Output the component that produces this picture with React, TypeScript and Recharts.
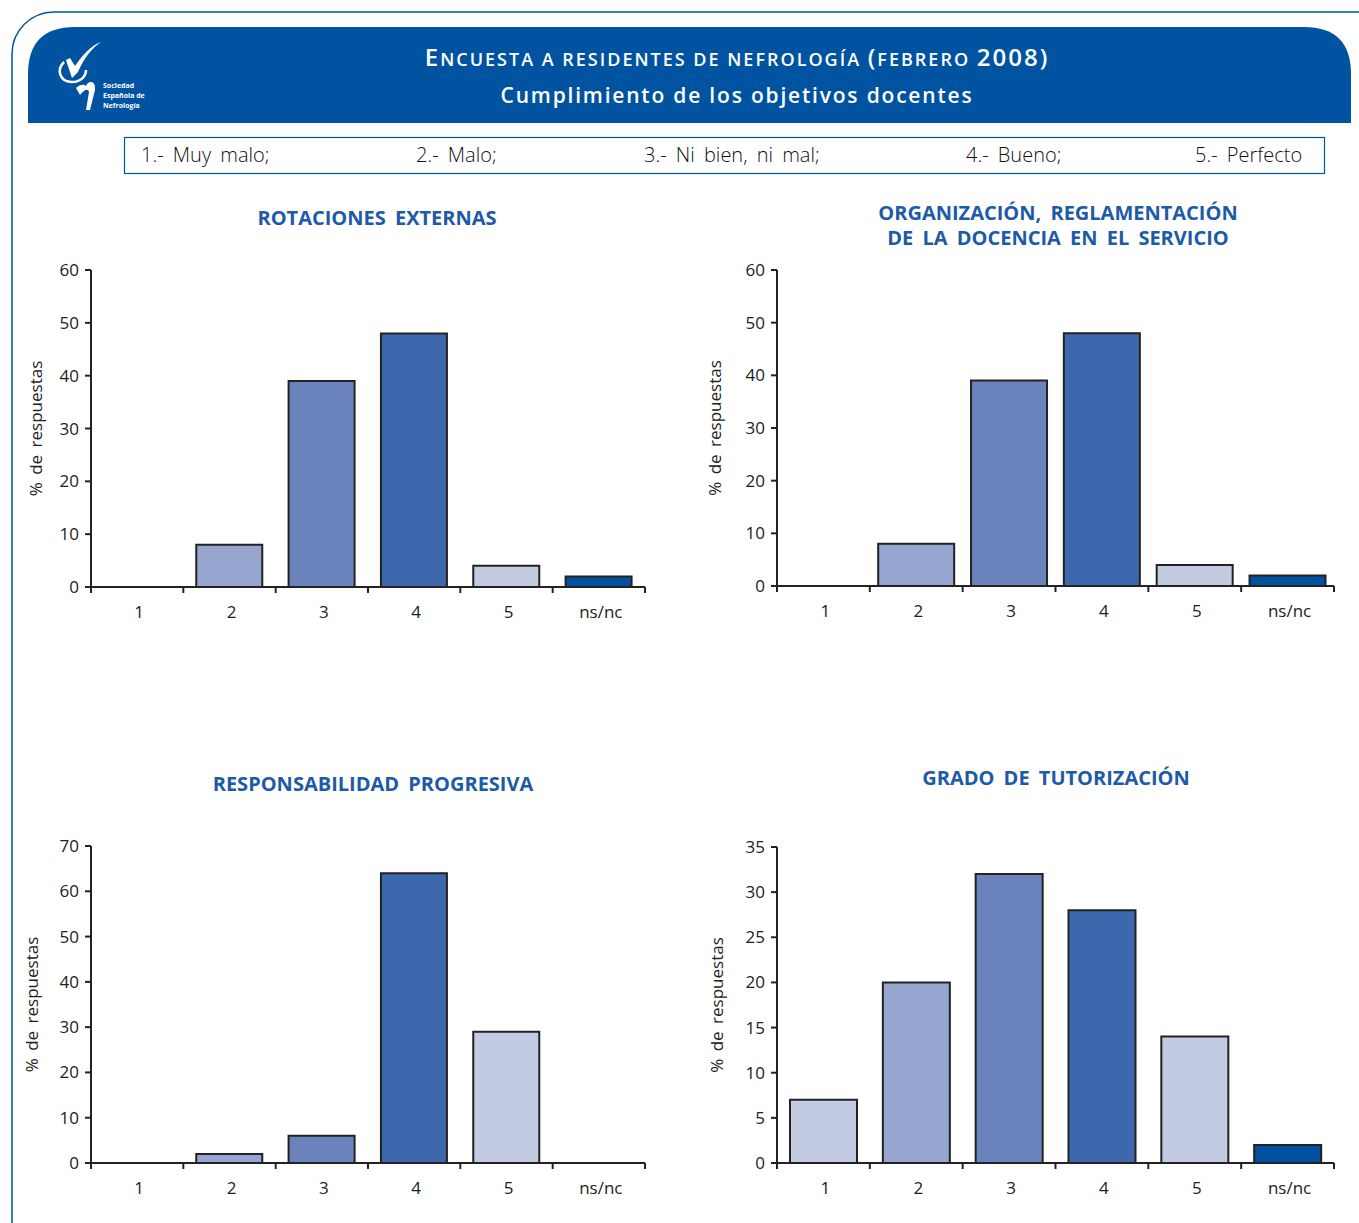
import React from 'react'
import { BarChart, Bar, XAxis, YAxis, Cell } from 'recharts'

const CATEGORIES = ['1', '2', '3', '4', '5', 'ns/nc']
const ROTACIONES = [0, 8, 39, 48, 4, 2]
const ORGANIZACION = [0, 8, 39, 48, 4, 2]
const RESPONSABILIDAD = [0, 2, 6, 64, 29, 0]
const TUTORIZACION = [7, 20, 32, 28, 14, 2]
const TICKS_60 = [0, 10, 20, 30, 40, 50, 60]
const TICKS_70 = [0, 10, 20, 30, 40, 50, 60, 70]
const TICKS_35 = [0, 5, 10, 15, 20, 25, 30, 35]
const LEGEND = ['1.- Muy malo;', '2.- Malo;', '3.- Ni bien, ni mal;', '4.- Bueno;', '5.- Perfecto']

const BAR_COLORS = ['#c3cbe3', '#97a6d0', '#6b83bd', '#3e68ad', '#c3cbe3', '#0052a0']
const BLUE = '#0053a1'
const TITLE_BLUE = '#1d5aa7'
const INK = '#222'
const FONT = '"Open Sans", "Noto Sans", sans-serif'
const X_LABEL_GAP = 19

function YLabel({ viewBox, dx }: any) {
  const x = viewBox.x + dx
  const y = viewBox.y + viewBox.height / 2
  return (
    <text
      x={x}
      y={y}
      transform={`rotate(-90, ${x}, ${y})`}
      textAnchor="middle"
      dominantBaseline="central"
      fontSize={17}
      fill={INK}
      fontFamily={FONT}
      style={{ wordSpacing: 3 }}
    >
      % de respuestas
    </text>
  )
}

// category label plus tick marks on the band edges (between categories)
function CatTick({ x, y, payload }: any) {
  const half = payload.offset ?? 0
  const axisY = y - X_LABEL_GAP
  const last = payload.value === CATEGORIES[CATEGORIES.length - 1]
  return (
    <g>
      <line x1={x - half} x2={x - half} y1={axisY} y2={axisY + 6} stroke={INK} strokeWidth={2} />
      {last && <line x1={x + half} x2={x + half} y1={axisY} y2={axisY + 6} stroke={INK} strokeWidth={2} />}
      <text x={x + 2} y={y} dy="0.71em" textAnchor="middle" fontSize={17} fill={INK} fontFamily={FONT}>
        {payload.value}
      </text>
    </g>
  )
}

interface PanelProps {
  values: number[]
  yMax: number
  yTicks: number[]
  left: number
  plotTop: number
  plotBottom: number
  plotRight: number
  labelX: number
  gap: string
}

function Panel({ values, yMax, yTicks, left, plotTop, plotBottom, plotRight, labelX, gap }: PanelProps) {
  const data = CATEGORIES.map((c, i) => ({ cat: c, v: values[i] }))
  const chartTop = plotTop - 20
  const width = 680
  const height = 400
  const bottom = height - (plotBottom - chartTop) - 40
  return (
    <div style={{ position: 'absolute', left, top: chartTop }}>
      <BarChart
        width={width}
        height={height}
        data={data}
        margin={{ top: 20, right: width - (plotRight - left), left: 0, bottom }}
        barCategoryGap={gap}
      >
        <XAxis
          dataKey="cat"
          height={40}
          axisLine={{ stroke: INK, strokeWidth: 2 }}
          tickLine={false}
          tickSize={0}
          tickMargin={X_LABEL_GAP}
          interval={0}
          tick={<CatTick />}
        />
        <YAxis
          domain={[0, yMax]}
          ticks={yTicks}
          width={91}
          interval={0}
          tickSize={6}
          tickMargin={6}
          axisLine={{ stroke: INK, strokeWidth: 2 }}
          tickLine={{ stroke: INK, strokeWidth: 2 }}
          tick={{ fontSize: 17, fill: INK, fontFamily: FONT }}
          label={<YLabel dx={labelX} />}
        />
        <Bar dataKey="v" stroke={INK} strokeWidth={2} isAnimationActive={false}>
          {data.map((_d, i) => (
            <Cell key={i} fill={BAR_COLORS[i]} />
          ))}
        </Bar>
      </BarChart>
    </div>
  )
}

function Title({ lines, cx, top }: { lines: string[]; cx: number; top: number }) {
  return (
    <div
      style={{
        position: 'absolute',
        left: cx - 300,
        top,
        width: 600,
        textAlign: 'center',
        color: TITLE_BLUE,
        fontFamily: FONT,
        fontWeight: 700,
        fontSize: 20,
        lineHeight: '25px',
        wordSpacing: 4,
      }}
    >
      {lines.map((l) => (
        <div key={l}>{l}</div>
      ))}
    </div>
  )
}

const big = { fontSize: 24 }
const small = { fontSize: 18 }

export default function App() {
  const legendX = [141, 416, 644, 966, 1195]
  return (
    <div
      style={{
        position: 'absolute',
        left: 0,
        top: 0,
        width: 1359,
        height: 1223,
        overflow: 'hidden',
        background: '#fff',
        fontFamily: FONT,
      }}
    >
      <svg width={1359} height={1223} style={{ position: 'absolute', left: 0, top: 0 }}>
        <rect x={12} y={12} width={1390} height={1300} rx={42} fill="none" stroke={BLUE} strokeWidth={1.5} />
        <path d="M28,123 L28,74 Q28,27 75,27 L1304,27 Q1351,27 1351,74 L1351,123 Z" fill={BLUE} />
        {/* logo */}
        <path d="M64,62 C56,70 60,82 72,82 C80,82 86,77 86,70" fill="none" stroke="#fff" strokeWidth={2.5} />
        <path d="M66,60 L72,78 L78,72 C84,58 92,48 101,42 C90,46 82,56 75,66 L70,58 Z" fill="#fff" />
        <path d="M76,88 C80,84 84,84 86,86 C88,80 96,80 95,90 L90,110 L86,110 L89,92 C88,88 84,90 80,95 Z" fill="#fff" />
        <text x={103} y={88} fontSize={7} fontWeight={700} fill="#fff" fontFamily={FONT}>Sociedad</text>
        <text x={103} y={98} fontSize={7} fontWeight={700} fill="#fff" fontFamily={FONT}>Española de</text>
        <text x={103} y={108} fontSize={7} fontWeight={700} fill="#fff" fontFamily={FONT}>Nefrología</text>
        <rect x={124.5} y={137.5} width={1200} height={36} fill="none" stroke={BLUE} strokeWidth={1.2} />
      </svg>

      <div
        style={{
          position: 'absolute',
          left: 287,
          top: 41,
          width: 900,
          textAlign: 'center',
          color: '#fff',
          fontWeight: 600,
          lineHeight: '32px',
          letterSpacing: 2,
          whiteSpace: 'nowrap',
        }}
      >
        <span style={big}>E</span>
        <span style={small}>NCUESTA A RESIDENTES DE NEFROLOGÍA </span>
        <span style={big}>(</span>
        <span style={small}>FEBRERO </span>
        <span style={big}>2008)</span>
      </div>
      <div
        style={{
          position: 'absolute',
          left: 337,
          top: 79,
          width: 800,
          textAlign: 'center',
          color: '#fff',
          fontWeight: 600,
          fontSize: 21,
          letterSpacing: 1.8,
          lineHeight: '32px',
        }}
      >
        Cumplimiento de los objetivos docentes
      </div>

      {LEGEND.map((t, i) => (
        <div
          key={t}
          style={{
            position: 'absolute',
            left: legendX[i],
            top: 141,
            fontSize: 20,
            fontWeight: 300,
            color: '#111',
            lineHeight: '28px',
            whiteSpace: 'pre',
            wordSpacing: 4,
          }}
        >
          {t}
        </div>
      ))}

      <Title lines={['ROTACIONES EXTERNAS']} cx={377} top={205} />
      <Title lines={['ORGANIZACIÓN, REGLAMENTACIÓN', 'DE LA DOCENCIA EN EL SERVICIO']} cx={1058} top={200} />
      <Title lines={['RESPONSABILIDAD PROGRESIVA']} cx={373} top={771} />
      <Title lines={['GRADO DE TUTORIZACIÓN']} cx={1056} top={765} />

      <Panel values={ROTACIONES} yMax={60} yTicks={TICKS_60} left={0} plotTop={270} plotBottom={587} plotRight={645} labelX={35} gap="14%" />
      <Panel values={ORGANIZACION} yMax={60} yTicks={TICKS_60} left={686} plotTop={270} plotBottom={586} plotRight={1334} labelX={28} gap="9%" />
      <Panel values={RESPONSABILIDAD} yMax={70} yTicks={TICKS_70} left={0} plotTop={846} plotBottom={1163} plotRight={645} labelX={31} gap="14%" />
      <Panel values={TUTORIZACION} yMax={35} yTicks={TICKS_35} left={686} plotTop={847} plotBottom={1163} plotRight={1334} labelX={30} gap="14%" />
    </div>
  )
}
